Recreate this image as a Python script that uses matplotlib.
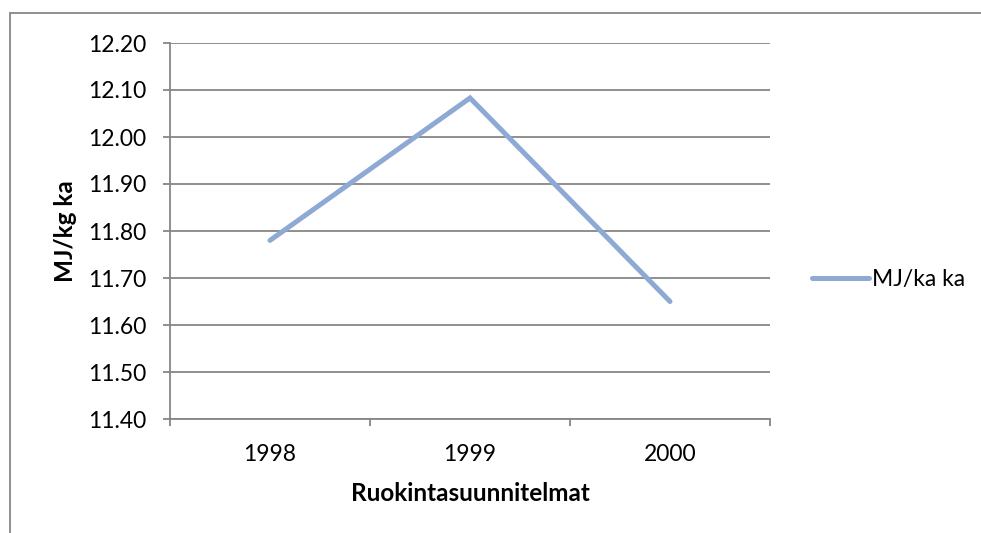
import matplotlib
matplotlib.use("Agg")
import matplotlib.pyplot as plt
from matplotlib.patches import Rectangle

# energy content of feed by planning year
years = ["1998", "1999", "2000"]
mj_values = [11.78, 12.083, 11.65]
y_ticks = [11.40, 11.50, 11.60, 11.70, 11.80, 11.90, 12.00, 12.10, 12.20]

plt.rcParams['font.family'] = ['Lato', 'DejaVu Sans']

grey = '#868686'
line_col = '#8DA9D4'

fig = plt.figure(figsize=(9.81, 5.33), dpi=100)
ax = fig.add_axes([170 / 981, 1 - 419 / 533, 600 / 981, 376 / 533])

x = list(range(len(years)))
ax.plot(x, mj_values, color=line_col, lw=3.6, solid_capstyle='round',
        solid_joinstyle='miter', label='MJ/ka ka', zorder=3)

ax.set_xlim(-0.5, len(years) - 0.5)
ax.set_ylim(y_ticks[0], y_ticks[-1])
ax.set_yticks(y_ticks)
ax.set_yticklabels([f"{v:.2f}" for v in y_ticks])
ax.set_xticks(x)
ax.set_xticklabels(years)
ax.set_xticks([i - 0.5 for i in range(len(years) + 1)], minor=True)

ax.yaxis.grid(True, color=grey, lw=1.3)
ax.set_axisbelow(True)
for side in ['top', 'right']:
    ax.spines[side].set_visible(False)
for side in ['left', 'bottom']:
    ax.spines[side].set_color(grey)
    ax.spines[side].set_linewidth(1.3)

ax.tick_params(axis='y', length=5, width=1.3, color=grey, pad=12, labelsize=16.5)
ax.tick_params(axis='x', which='major', length=0, pad=18, labelsize=16.5)
ax.tick_params(axis='x', which='minor', length=5, width=1.3, color=grey)

ax.set_xlabel('Ruokintasuunnitelmat', fontsize=17.5, fontweight='bold', labelpad=12)
ax.set_ylabel('MJ/kg ka', fontsize=17.5, fontweight='bold', labelpad=8)

leg = ax.legend(loc='center left', bbox_to_anchor=(1.035, 0.37), frameon=False,
                fontsize=16.5, handlelength=2.5, handletextpad=0.15)

# chart frame running off the page edge
fig.add_artist(Rectangle((10 / 981, -0.5), 2, (1 - 13 / 533) + 0.5,
                         transform=fig.transFigure, fill=False,
                         edgecolor=grey, lw=1.3))

fig.savefig('out.png', dpi=100)
